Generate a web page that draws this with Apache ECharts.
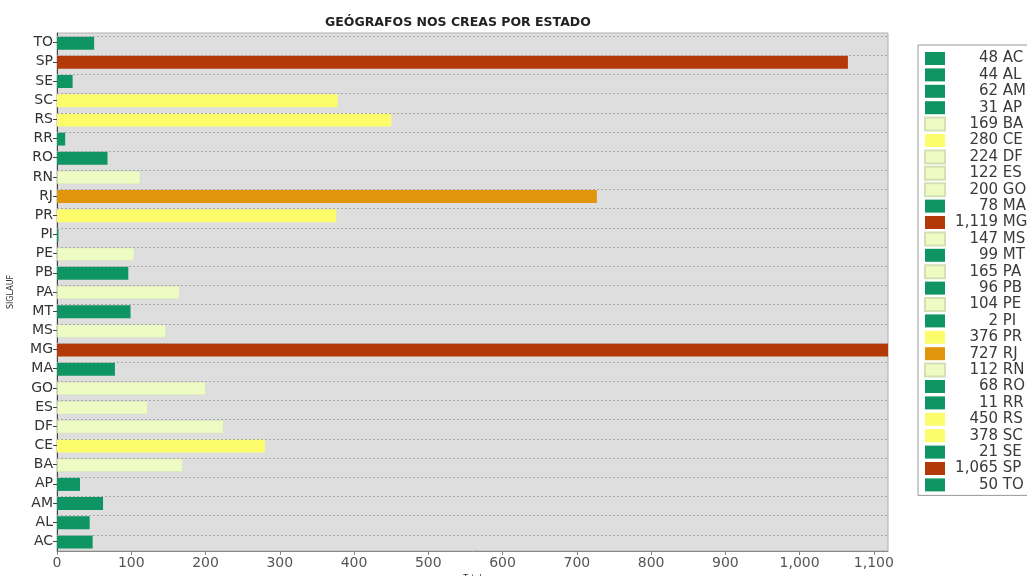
<!DOCTYPE html>
<html>
    <head>
        <meta charset="UTF-8">
        <title>Geógrafos nos CREAs por estado</title>
        <script src="https://cdn.jsdelivr.net/npm/echarts@6/dist/echarts.min.js"></script>
        <style>
            body,html{margin:0;padding:0;background:#fff;}
            #chart{width:1027px;height:576px;}
        </style>
    </head>
    <body>
        <div id="chart"></div>
        <script type="text/javascript">
          // estados (de baixo para cima no eixo)
          var estados = ['AC','AL','AM','AP','BA','CE','DF','ES','GO','MA','MG','MS','MT','PA','PB','PE','PI','PR','RJ','RN','RO','RR','RS','SC','SE','SP','TO'];
          var totais  = [48, 44, 62, 31, 169, 280, 224, 122, 200, 78, 1119, 147, 99, 165, 96, 104, 2, 376, 727, 112, 68, 11, 450, 378, 21, 1065, 50];
          // faixa de cor de cada estado
          var faixas  = ['g','g','g','g','p','y','p','p','p','g','r','p','g','p','g','p','g','y','o','p','g','g','y','y','g','r','g'];
          var xTicks  = [0, 100, 200, 300, 400, 500, 600, 700, 800, 900, 1000, 1100];

          var cores = {g:'#0f9463', p:'#eefcc4', y:'#fdfd6c', o:'#e0950a', r:'#b33a08'};

          function fmt(v){ return v.toLocaleString('en-US'); }

          var series = [];
          // linhas pontilhadas de grade no centro de cada categoria
          series.push({
              name:'grade',
              type:'bar',
              data:[],
              z:1,
              silent:true,
              markLine:{
                  silent:true,
                  symbol:'none',
                  label:{show:false},
                  lineStyle:{color:'#a8a8a8', type:[2,2], width:1},
                  data: estados.map(function(e){ return {yAxis:e}; })
              }
          });
          estados.forEach(function(e, i){
              var d = estados.map(function(){ return '-'; });
              d[i] = totais[i];
              series.push({
                  name: fmt(totais[i]) + ' ' + e,
                  type:'bar',
                  stack:'total',
                  barWidth:13,
                  z:3,
                  itemStyle:{color: cores[faixas[i]], borderColor: faixas[i]=='p' ? '#d4e0b4' : cores[faixas[i]], borderWidth: faixas[i]=='p' ? 0.5 : 0},
                  data:d
              });
          });

          // recuo para alinhar os números à direita na legenda
          var larg = {1:38.5, 2:28.9, 3:19.4, 5:5.1};

          var chart = echarts.init(document.getElementById('chart'));
          var option = {
              animation:false,
              title:{
                  text:'GEÓGRAFOS NOS CREAS POR ESTADO',
                  left:320,
                  top:11,
                  textStyle:{fontFamily:'DejaVu Sans', fontSize:12.5, fontWeight:'bold', color:'#222'}
              },
              grid:{
                  left:57, right:139, top:33, bottom:25,
                  outerBoundsMode:'none',
                  containLabel:false,
                  show:true,
                  backgroundColor:'#dedede',
                  borderColor:'#b0b0b0',
                  borderWidth:1
              },
              legend:{
                  orient:'vertical',
                  left:918,
                  top:45,
                  padding:[6,60,3,6],
                  backgroundColor:'#fff',
                  borderColor:'#999',
                  borderWidth:1,
                  itemWidth:20,
                  itemHeight:13,
                  itemGap:1.4,
                  icon:'rect',
                  data: series.slice(1).map(function(s){ return s.name; }),
                  formatter:function(name){
                      var p = name.split(' ');
                      return '{d' + p[0].length + '|' + p[0] + '} {c|' + p[1] + '}';
                  },
                  textStyle:{
                      fontFamily:'DejaVu Sans',
                      fontSize:15,
                      lineHeight:14,
                      color:'#3a3a3a',
                      rich:{
                          d1:{padding:[0,0,0,larg[1]], fontSize:15, lineHeight:14, color:'#3a3a3a', fontFamily:'DejaVu Sans'},
                          d2:{padding:[0,0,0,larg[2]], fontSize:15, lineHeight:14, color:'#3a3a3a', fontFamily:'DejaVu Sans'},
                          d3:{padding:[0,0,0,larg[3]], fontSize:15, lineHeight:14, color:'#3a3a3a', fontFamily:'DejaVu Sans'},
                          d5:{padding:[0,0,0,larg[5]], fontSize:15, lineHeight:14, color:'#3a3a3a', fontFamily:'DejaVu Sans'},
                          c:{fontSize:15, lineHeight:14, color:'#3a3a3a', fontFamily:'DejaVu Sans'}
                      }
                  }
              },
              xAxis:{
                  type:'value',
                  min:0,
                  max:1119,
                  interval:100,
                  name:'Total',
                  nameLocation:'middle',
                  nameGap:22,
                  nameTextStyle:{fontSize:8, color:'#333', fontFamily:'DejaVu Sans'},
                  axisLine:{show:true, lineStyle:{color:'#888'}},
                  axisTick:{show:true, length:4, lineStyle:{color:'#888'}},
                  axisLabel:{
                      showMaxLabel:false,
                      color:'#555',
                      fontSize:14,
                      fontFamily:'DejaVu Sans',
                      margin:5,
                      formatter:function(v){ return xTicks.indexOf(v) >= 0 ? fmt(v) : ''; }
                  },
                  splitLine:{show:false}
              },
              yAxis:{
                  type:'category',
                  data:estados,
                  name:'SIGLAUF',
                  nameLocation:'middle',
                  nameRotate:90,
                  nameGap:42,
                  nameTextStyle:{fontSize:8, color:'#333', fontFamily:'DejaVu Sans'},
                  axisLine:{show:true, lineStyle:{color:'#444', width:1}},
                  axisTick:{show:true, alignWithLabel:true, length:4, lineStyle:{color:'#444'}},
                  axisLabel:{color:'#333', fontSize:14, fontFamily:'DejaVu Sans', margin:4},
                  splitLine:{show:false}
              },
              series:series
          };
          chart.setOption(option);
        </script>
    </body>
</html>
